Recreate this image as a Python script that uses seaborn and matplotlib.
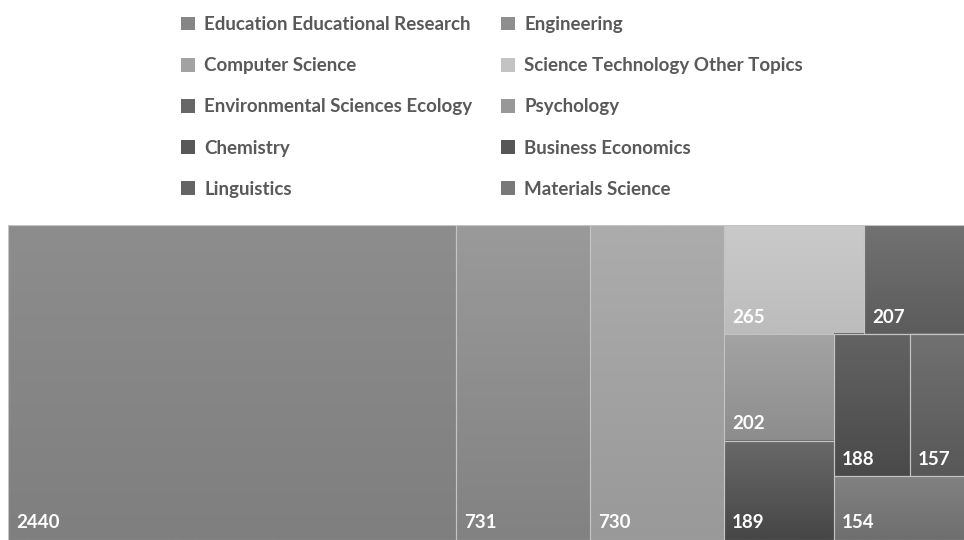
import numpy as np
import matplotlib
matplotlib.use("Agg")
import matplotlib.pyplot as plt
from matplotlib.patches import Rectangle, Patch
import seaborn as sns

# data
categories = ["Education Educational Research", "Engineering", "Computer Science",
              "Science Technology Other Topics", "Environmental Sciences Ecology",
              "Psychology", "Chemistry", "Business Economics", "Linguistics",
              "Materials Science"]
counts = [2440, 731, 730, 265, 207, 202, 189, 188, 157, 154]

# grey shades of the tiles (top of tile -> bottom of tile)
shade_top = ["#8d8d8d", "#9a9a9a", "#acacac", "#cacaca", "#727272",
             "#a3a3a3", "#696969", "#636363", "#717171", "#818181"]
shade_bottom = ["#7f7f7f", "#828282", "#999999", "#bcbcbc", "#5c5c5c",
                "#8d8d8d", "#464646", "#4a4a4a", "#585858", "#6f6f6f"]


def squarify(vals, x, y, w, h, target=0.815):
    # strips along the short side, grown while the worst tile gets closer to target w/h
    rects = []
    vals = list(vals)
    while vals:
        scale = w * h / sum(vals)
        vertical = w >= h
        short = h if vertical else w

        def worst(row):
            t = sum(row) * scale / short
            res = 0
            for v in row:
                l = v * scale / t
                a = t / l if vertical else l / t
                res = max(res, abs(np.log(a / target)))
            return res

        n = 1
        while n < len(vals) and worst(vals[:n + 1]) <= worst(vals[:n]):
            n += 1
        row = vals[:n]
        t = sum(row) * scale / short
        pos = 0
        for v in row:
            l = v * scale / t
            if vertical:
                rects.append((x, y + pos, t, l))
            else:
                rects.append((x + pos, y, l, t))
            pos += l
        if vertical:
            x += t
            w -= t
        else:
            y += t
            h -= t
        vals = vals[n:]
    return rects


sns.set_theme(style="white")
plt.rcParams["font.family"] = ["Lato", "DejaVu Sans"]

fig = plt.figure(figsize=(9.64, 5.4), dpi=100)
W, H = 966, 315  # plot area in pixels
ax = fig.add_axes([8 / 964, 0, W / 964, H / 540])

rects = squarify(counts, 0, 0, W, H)
for (x, y, w, h), v, c0, c1 in zip(rects, counts, shade_top, shade_bottom):
    top = np.array(matplotlib.colors.to_rgb(c0))
    bot = np.array(matplotlib.colors.to_rgb(c1))
    grad = np.linspace(top, bot, 64).reshape(64, 1, 3)
    ax.imshow(grad, extent=(x, x + w, y + h, y), aspect="auto", interpolation="bilinear")
    ax.add_patch(Rectangle((x, y), w, h, fill=False, ec="#c4c4c4", lw=0.8))
    ax.text(x + 8, y + h - 17, str(v), ha="left", va="center", color="white",
            fontsize=13.5, fontweight="bold")

ax.set_xlim(0, W)
ax.set_ylim(H, 0)
ax.axis("off")

# legend, two columns read row by row
handles = [Patch(facecolor=matplotlib.colors.to_hex(
    (np.array(matplotlib.colors.to_rgb(a)) + np.array(matplotlib.colors.to_rgb(b))) / 2),
    edgecolor="none") for a, b in zip(shade_top, shade_bottom)]
for k, xpos in enumerate([181, 501]):
    idx = list(range(k, len(categories), 2))
    fig.legend([handles[i] for i in idx], [categories[i] for i in idx],
               loc="upper left", bbox_to_anchor=(xpos / 964, 1 - 16 / 540),
               frameon=False, handlelength=0.75, handleheight=0.75,
               handletextpad=0.5, labelspacing=1.29, borderpad=0, borderaxespad=0,
               prop={"weight": "bold", "size": 13.5}, labelcolor="#595959")

fig.savefig("out.png", dpi=100)
